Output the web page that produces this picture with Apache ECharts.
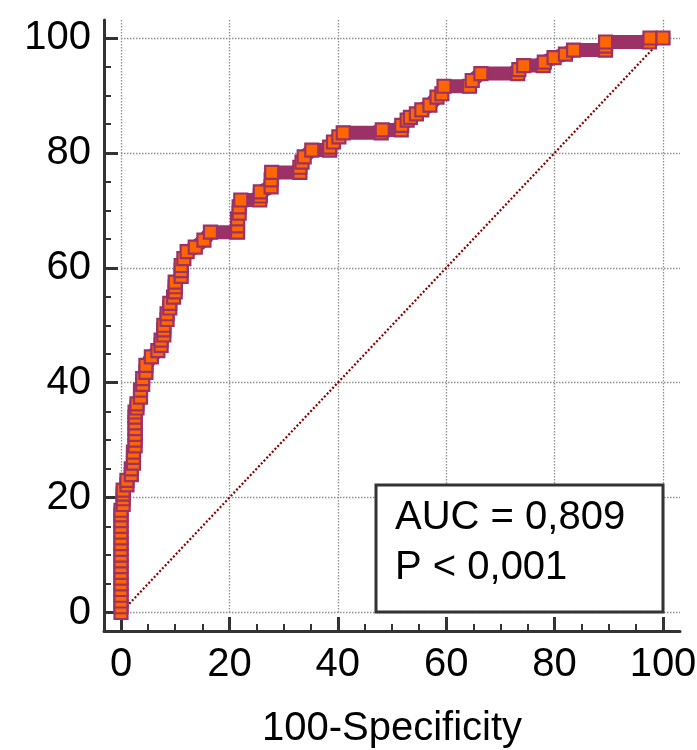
<!DOCTYPE html>
<html><head><meta charset="utf-8">
<script src="https://cdn.jsdelivr.net/npm/echarts@6/dist/echarts.min.js"></script>
<style>html,body{margin:0;padding:0;background:#fff}#c{width:697px;height:750px}</style>
</head><body><div id="c"></div>
<script>
// ROC curve points (100-Specificity, Sensitivity)
const rocX = [
  0,0,0,0,0,0,0,0,0,0,0,0,0,0,0,0,0,0,0,
  0.4,0.4,0.4,0.4, 1.1,1.1, 1.9,1.9, 2.3,2.3,2.3,
  2.6,2.6,2.6,2.6,2.6,2.6,2.6, 2.95,2.95, 3.6,3.6, 4,4, 4.6,4.6,
  5.6, 6.8, 7.4,7.4, 7.9,7.9,7.9, 8.5,8.5, 9,9, 9.7, 10,10,10,
  11.1,11.1,11.1, 11.6, 12.2, 13.7, 15.3,
  16.5,21.5, 21.5,21.5, 21.8,21.8, 22.1,25.6, 25.7,25.7,
  27.7,27.7,27.8,33, 33,33.4,33.8, 35.2,38.5, 38.5,39.2,40.2,
  41,48, 48.2,51.7, 51.8,52.8,53.4, 54.5,55.5,57,58.3,
  59.2,59.6,64.3, 64.8,66.4,73.2, 73.4,74.3,77.9,
  78.1,79.9,82,83.5,89.4, 89.4,89.4,97.5, 97.6,100
];
const rocY = [
  0,1,2,3,4,5,6,7,8,9,10,11,12,13,14,15,16,17,17.8,
  18.8,19.8,20.6,21.3, 22.2,23, 24,25, 26,27,27.9,
  29,30,31,32,33,34,34.9, 35.6,36.3, 37.5,38.7, 39.7,40.7, 41.8,43,
  44.5, 45.6, 46.5,47.4, 48.3,49.2,50, 51,52, 53,53.8, 54.9, 55.8,56.7,57.5,
  58.5,59.5,60.4, 61.6, 62.8, 63.6, 64.8,
  66.2,66.2, 67.3,68.5, 69.5,70.6, 71.8,71.8, 72.5,73.2,
  74.1,75.3,76.6,76.6, 77.5,78.4,79.3, 80.5,80.5, 81,81.9,82.8,
  83.5,83.5, 84,84, 84.8,85.7,86.2, 86.8,87.5,88.3,89.7,
  90.3,91.6,91.6, 92.6,93.8,93.8, 94.5,95.2,95.2,
  95.8,96.6,97.2,97.9,97.9, 98.6,99.3,99.3, 100,100
];
const diagonalX = [0, 100];
const diagonalY = [0, 100];
const xTicks = [0, 20, 40, 60, 80, 100];
const yTicks = [0, 20, 40, 60, 80, 100];
const xTitle = '100-Specificity';
const statLines = ['AUC = 0,809', 'P < 0,001'];

const FONT = "'Liberation Sans', Arial, sans-serif";
const ORANGE = '#FF6600';
const PURPLE = '#9B3166';
const AXIS = '#333333';

const rocData = rocX.map((x, i) => [x, rocY[i]]);
const diagData = diagonalX.map((x, i) => [x, diagonalY[i]]);

const chart = echarts.init(document.getElementById('c'), null, {renderer: 'canvas'});
const step = xTicks[1] - xTicks[0];
const ystep = yTicks[1] - yTicks[0];

chart.setOption({
  backgroundColor: '#ffffff',
  animation: false,
  grid: [
    {left: 104, right: 17, top: 20, bottom: 119, outerBoundsMode: 'none'},
    {left: 121, right: 17, top: 20, bottom: 137.5, outerBoundsMode: 'none'},
    {left: 121, right: 34, top: 38, bottom: 137.5, outerBoundsMode: 'none'}
  ],
  xAxis: [
    {gridIndex: 0, type: 'value', min: 0, max: 1,
      axisLine: {show: true, onZero: false, lineStyle: {color: AXIS, width: 3}},
      axisTick: {show: false}, axisLabel: {show: false}, splitLine: {show: false}},
    {gridIndex: 1, type: 'value', min: xTicks[0], max: 103.14, interval: step,
      axisLine: {show: false, onZero: false}, axisTick: {show: false}, axisLabel: {show: false},
      splitLine: {show: true, showMaxLine: false, lineStyle: {color: '#8f8f8f', width: 1.3, type: [1.5, 1.5]}}},
    {gridIndex: 2, type: 'value', min: xTicks[0], max: xTicks[xTicks.length - 1], interval: step,
      offset: 18.5, position: 'bottom',
      axisLine: {show: true, onZero: false, lineStyle: {color: AXIS, width: 3}},
      axisTick: {show: true, inside: true, length: 14, lineStyle: {color: AXIS, width: 3}},
      minorTick: {show: true, splitNumber: 4, length: 7, lineStyle: {color: AXIS, width: 2}},
      axisLabel: {show: true, margin: 14, color: '#000', fontSize: 40, fontFamily: FONT},
      splitLine: {show: false},
      name: xTitle, nameLocation: 'middle', nameGap: 78,
      nameTextStyle: {color: '#000', fontSize: 40, fontFamily: FONT}}
  ],
  yAxis: [
    {gridIndex: 0, type: 'value', min: 0, max: 1,
      axisLine: {show: true, onZero: false, lineStyle: {color: AXIS, width: 3}},
      axisTick: {show: false}, axisLabel: {show: false}, splitLine: {show: false}},
    {gridIndex: 1, type: 'value', min: yTicks[0], max: 103.13, interval: ystep,
      axisLine: {show: false, onZero: false}, axisTick: {show: false}, axisLabel: {show: false},
      splitLine: {show: true, showMaxLine: false, lineStyle: {color: '#8f8f8f', width: 1.3, type: [1.5, 1.5]}}},
    {gridIndex: 2, type: 'value', min: yTicks[0], max: yTicks[yTicks.length - 1], interval: ystep,
      offset: 17, position: 'left',
      axisLine: {show: true, onZero: false, lineStyle: {color: AXIS, width: 3}},
      axisTick: {show: true, inside: true, length: 14, lineStyle: {color: AXIS, width: 3}},
      minorTick: {show: true, splitNumber: 4, length: 7, lineStyle: {color: AXIS, width: 2}},
      axisLabel: {show: true, margin: 13, color: '#000', fontSize: 40, fontFamily: FONT},
      splitLine: {show: false}}
  ],
  series: [
    {type: 'line', xAxisIndex: 2, yAxisIndex: 2, data: diagData, showSymbol: false, clip: false,
      lineStyle: {color: '#880000', width: 2.2, type: [2, 2]}, z: 2, silent: true},
    {type: 'line', xAxisIndex: 2, yAxisIndex: 2, data: rocData, clip: false,
      symbol: 'rect', symbolSize: 13, showSymbol: true,
      itemStyle: {color: ORANGE, borderColor: PURPLE, borderWidth: 2.2},
      lineStyle: {color: PURPLE, width: 14, cap: 'butt', join: 'miter'},
      emphasis: {disabled: true}, z: 3, silent: true}
  ],
  graphic: [
    {type: 'rect', z: 100, shape: {x: 376, y: 485, width: 287, height: 127},
      style: {fill: '#ffffff', stroke: AXIS, lineWidth: 3}},
    {type: 'text', z: 101, style: {x: 395, y: 518, text: statLines[0], fill: '#000',
      font: '40px ' + FONT, textVerticalAlign: 'middle', verticalAlign: 'middle'}},
    {type: 'text', z: 101, style: {x: 395, y: 568, text: statLines[1], fill: '#000',
      font: '40px ' + FONT, textVerticalAlign: 'middle', verticalAlign: 'middle'}}
  ]
});
</script>
</body></html>
